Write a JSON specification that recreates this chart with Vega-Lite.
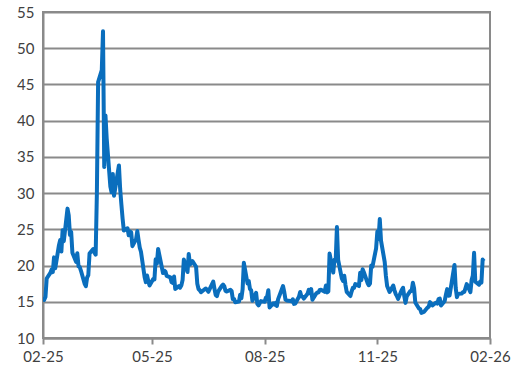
{
  "$schema": "https://vega.github.io/schema/vega-lite/v6.json",
  "width": 447,
  "height": 326,
  "autosize": "none",
  "padding": {"left": 43, "top": 12, "right": 30, "bottom": 41},
  "background": "white",
  "config": {
    "view": {"stroke": "#8a8a8a", "strokeWidth": 2},
    "axis": {"labelFont": "Lato", "labelFontSize": 15, "labelColor": "#404040", "domainColor": "#8a8a8a", "domainWidth": 2, "tickColor": "#8a8a8a", "tickWidth": 2, "gridColor": "#8a8a8a", "gridWidth": 2, "gridOpacity": 1, "title": null}
  },
  "data": {"values": [
    {"d":"2025-02-18","v":15.35},{"d":"2025-02-19","v":15.27},{"d":"2025-02-20","v":15.66},{"d":"2025-02-21","v":18.21},
    {"d":"2025-02-24","v":18.98},{"d":"2025-02-25","v":19.43},{"d":"2025-02-26","v":19.10},{"d":"2025-02-27","v":21.13},{"d":"2025-02-28","v":19.63},
    {"d":"2025-03-03","v":22.78},{"d":"2025-03-04","v":23.51},{"d":"2025-03-05","v":21.93},{"d":"2025-03-06","v":24.87},{"d":"2025-03-07","v":23.37},
    {"d":"2025-03-10","v":27.86},{"d":"2025-03-11","v":26.92},{"d":"2025-03-12","v":24.23},{"d":"2025-03-13","v":24.66},{"d":"2025-03-14","v":21.77},
    {"d":"2025-03-17","v":20.51},{"d":"2025-03-18","v":21.70},{"d":"2025-03-19","v":19.90},{"d":"2025-03-20","v":19.80},{"d":"2025-03-21","v":19.28},
    {"d":"2025-03-24","v":17.48},{"d":"2025-03-25","v":17.15},{"d":"2025-03-26","v":18.33},{"d":"2025-03-27","v":18.69},{"d":"2025-03-28","v":21.65},
    {"d":"2025-03-31","v":22.28},{"d":"2025-04-01","v":21.77},{"d":"2025-04-02","v":21.51},{"d":"2025-04-03","v":30.02},{"d":"2025-04-04","v":45.31},
    {"d":"2025-04-07","v":46.98},{"d":"2025-04-08","v":52.33},{"d":"2025-04-09","v":33.62},{"d":"2025-04-10","v":40.72},{"d":"2025-04-11","v":37.56},
    {"d":"2025-04-14","v":30.89},{"d":"2025-04-15","v":30.12},{"d":"2025-04-16","v":32.64},{"d":"2025-04-17","v":29.65},
    {"d":"2025-04-21","v":33.82},{"d":"2025-04-22","v":30.57},{"d":"2025-04-23","v":28.45},{"d":"2025-04-24","v":26.47},{"d":"2025-04-25","v":24.84},
    {"d":"2025-04-28","v":25.15},{"d":"2025-04-29","v":24.17},{"d":"2025-04-30","v":24.70},{"d":"2025-05-01","v":24.60},{"d":"2025-05-02","v":22.68},
    {"d":"2025-05-05","v":23.64},{"d":"2025-05-06","v":24.76},{"d":"2025-05-07","v":23.55},{"d":"2025-05-08","v":22.48},{"d":"2025-05-09","v":21.90},
    {"d":"2025-05-12","v":18.39},{"d":"2025-05-13","v":17.71},{"d":"2025-05-14","v":18.62},{"d":"2025-05-15","v":17.83},{"d":"2025-05-16","v":17.24},
    {"d":"2025-05-19","v":18.14},{"d":"2025-05-20","v":18.09},{"d":"2025-05-21","v":20.87},{"d":"2025-05-22","v":20.28},{"d":"2025-05-23","v":22.29},
    {"d":"2025-05-27","v":18.96},{"d":"2025-05-28","v":19.31},{"d":"2025-05-29","v":19.18},{"d":"2025-05-30","v":18.57},
    {"d":"2025-06-02","v":18.36},{"d":"2025-06-03","v":17.69},{"d":"2025-06-04","v":17.61},{"d":"2025-06-05","v":18.48},{"d":"2025-06-06","v":16.77},
    {"d":"2025-06-09","v":17.16},{"d":"2025-06-10","v":16.95},{"d":"2025-06-11","v":17.26},{"d":"2025-06-12","v":18.02},{"d":"2025-06-13","v":20.82},
    {"d":"2025-06-16","v":19.11},{"d":"2025-06-17","v":21.60},{"d":"2025-06-18","v":20.14},{"d":"2025-06-20","v":20.62},
    {"d":"2025-06-23","v":19.83},{"d":"2025-06-24","v":17.48},{"d":"2025-06-25","v":16.76},{"d":"2025-06-26","v":16.59},{"d":"2025-06-27","v":16.32},
    {"d":"2025-06-30","v":16.73},{"d":"2025-07-01","v":16.83},{"d":"2025-07-02","v":16.64},{"d":"2025-07-03","v":16.38},
    {"d":"2025-07-07","v":17.79},{"d":"2025-07-08","v":16.81},{"d":"2025-07-09","v":15.94},{"d":"2025-07-10","v":15.78},{"d":"2025-07-11","v":16.40},
    {"d":"2025-07-14","v":17.20},{"d":"2025-07-15","v":17.38},{"d":"2025-07-16","v":17.16},{"d":"2025-07-17","v":16.52},{"d":"2025-07-18","v":16.41},
    {"d":"2025-07-21","v":16.65},{"d":"2025-07-22","v":16.50},{"d":"2025-07-23","v":15.37},{"d":"2025-07-24","v":15.39},{"d":"2025-07-25","v":14.93},
    {"d":"2025-07-28","v":15.03},{"d":"2025-07-29","v":15.98},{"d":"2025-07-30","v":15.48},{"d":"2025-07-31","v":16.72},{"d":"2025-08-01","v":20.38},
    {"d":"2025-08-04","v":17.52},{"d":"2025-08-05","v":17.85},{"d":"2025-08-06","v":16.77},{"d":"2025-08-07","v":16.57},{"d":"2025-08-08","v":15.15},
    {"d":"2025-08-11","v":16.25},{"d":"2025-08-12","v":14.73},{"d":"2025-08-13","v":14.49},{"d":"2025-08-14","v":14.83},{"d":"2025-08-15","v":15.09},
    {"d":"2025-08-18","v":14.99},{"d":"2025-08-19","v":15.57},{"d":"2025-08-20","v":15.69},{"d":"2025-08-21","v":16.60},{"d":"2025-08-22","v":14.22},
    {"d":"2025-08-25","v":14.79},{"d":"2025-08-26","v":14.62},{"d":"2025-08-27","v":14.85},{"d":"2025-08-28","v":14.43},{"d":"2025-08-29","v":15.36},
    {"d":"2025-09-02","v":17.17},{"d":"2025-09-03","v":16.35},{"d":"2025-09-04","v":15.30},{"d":"2025-09-05","v":15.18},
    {"d":"2025-09-08","v":15.11},{"d":"2025-09-09","v":15.04},{"d":"2025-09-10","v":15.35},{"d":"2025-09-11","v":14.71},{"d":"2025-09-12","v":14.76},
    {"d":"2025-09-15","v":15.69},{"d":"2025-09-16","v":16.36},{"d":"2025-09-17","v":15.72},{"d":"2025-09-18","v":15.70},{"d":"2025-09-19","v":15.45},
    {"d":"2025-09-22","v":16.10},{"d":"2025-09-23","v":16.64},{"d":"2025-09-24","v":16.18},{"d":"2025-09-25","v":16.74},{"d":"2025-09-26","v":15.29},
    {"d":"2025-09-29","v":16.12},{"d":"2025-09-30","v":16.28},{"d":"2025-10-01","v":16.29},{"d":"2025-10-02","v":16.63},{"d":"2025-10-03","v":16.65},
    {"d":"2025-10-06","v":16.37},{"d":"2025-10-07","v":17.24},{"d":"2025-10-08","v":16.30},{"d":"2025-10-09","v":16.43},{"d":"2025-10-10","v":21.66},
    {"d":"2025-10-13","v":19.03},{"d":"2025-10-14","v":20.81},{"d":"2025-10-15","v":20.64},{"d":"2025-10-16","v":25.31},{"d":"2025-10-17","v":20.78},
    {"d":"2025-10-20","v":18.23},{"d":"2025-10-21","v":17.87},{"d":"2025-10-22","v":18.60},{"d":"2025-10-23","v":17.30},{"d":"2025-10-24","v":16.37},
    {"d":"2025-10-27","v":15.79},{"d":"2025-10-28","v":16.42},{"d":"2025-10-29","v":16.92},{"d":"2025-10-30","v":16.91},{"d":"2025-10-31","v":17.44},
    {"d":"2025-11-03","v":17.17},{"d":"2025-11-04","v":19.00},{"d":"2025-11-05","v":18.01},{"d":"2025-11-06","v":19.50},{"d":"2025-11-07","v":19.08},
    {"d":"2025-11-10","v":17.60},{"d":"2025-11-11","v":17.28},{"d":"2025-11-12","v":17.51},{"d":"2025-11-13","v":20.00},{"d":"2025-11-14","v":19.83},
    {"d":"2025-11-17","v":22.38},{"d":"2025-11-18","v":24.69},{"d":"2025-11-19","v":23.66},{"d":"2025-11-20","v":26.42},{"d":"2025-11-21","v":23.43},
    {"d":"2025-11-24","v":20.52},{"d":"2025-11-25","v":18.56},{"d":"2025-11-26","v":17.19},{"d":"2025-11-28","v":16.35},
    {"d":"2025-12-01","v":17.24},{"d":"2025-12-02","v":16.59},{"d":"2025-12-03","v":16.08},{"d":"2025-12-04","v":15.78},{"d":"2025-12-05","v":15.41},
    {"d":"2025-12-08","v":16.66},{"d":"2025-12-09","v":16.93},{"d":"2025-12-10","v":15.77},{"d":"2025-12-11","v":14.85},{"d":"2025-12-12","v":15.74},
    {"d":"2025-12-15","v":16.50},{"d":"2025-12-16","v":16.48},{"d":"2025-12-17","v":17.62},{"d":"2025-12-18","v":16.87},{"d":"2025-12-19","v":14.91},
    {"d":"2025-12-22","v":14.08},{"d":"2025-12-23","v":14.00},{"d":"2025-12-24","v":13.47},{"d":"2025-12-26","v":13.60},
    {"d":"2025-12-29","v":14.20},{"d":"2025-12-30","v":14.33},{"d":"2025-12-31","v":14.95},{"d":"2026-01-02","v":14.51},
    {"d":"2026-01-05","v":14.90},{"d":"2026-01-06","v":14.75},{"d":"2026-01-07","v":15.38},{"d":"2026-01-08","v":15.45},{"d":"2026-01-09","v":14.49},
    {"d":"2026-01-12","v":15.12},{"d":"2026-01-13","v":15.98},{"d":"2026-01-14","v":16.75},{"d":"2026-01-15","v":15.84},{"d":"2026-01-16","v":15.86},
    {"d":"2026-01-20","v":20.09},{"d":"2026-01-21","v":16.90},{"d":"2026-01-22","v":15.64},{"d":"2026-01-23","v":16.09},
    {"d":"2026-01-26","v":16.15},{"d":"2026-01-27","v":16.35},{"d":"2026-01-28","v":16.35},{"d":"2026-01-29","v":16.88},{"d":"2026-01-30","v":17.44},
    {"d":"2026-02-02","v":16.34},{"d":"2026-02-03","v":18.00},{"d":"2026-02-04","v":18.64},{"d":"2026-02-05","v":21.77},{"d":"2026-02-06","v":17.76},
    {"d":"2026-02-09","v":17.36},{"d":"2026-02-10","v":17.79},{"d":"2026-02-11","v":17.65},{"d":"2026-02-12","v":20.82},{"d":"2026-02-13","v":20.60}
  ]},
  "mark": {"type": "line", "color": "#0a6ebd", "strokeWidth": 4, "strokeJoin": "round", "clip": true},
  "encoding": {
    "x": {
      "field": "d", "type": "temporal",
      "scale": {"type": "utc", "domain": [{"year": 2025, "month": 2, "date": 18, "utc": true}, {"year": 2026, "month": 2, "date": 18, "utc": true}]},
      "axis": {
        "values": [
          {"year": 2025, "month": 2, "date": 18, "utc": true},
          {"year": 2025, "month": 5, "date": 18, "utc": true},
          {"year": 2025, "month": 8, "date": 18, "utc": true},
          {"year": 2025, "month": 11, "date": 18, "utc": true},
          {"year": 2026, "month": 2, "date": 18, "utc": true}
        ],
        "labelExpr": "utcFormat(datum.value, '%m-%y')", "grid": false, "tickSize": 6, "labelPadding": 5, "labelFlush": false, "labelOverlap": false
      }
    },
    "y": {
      "field": "v", "type": "quantitative",
      "scale": {"domain": [10, 55], "nice": false, "zero": false},
      "axis": {"values": [10, 15, 20, 25, 30, 35, 40, 45, 50, 55], "ticks": false, "labelPadding": 9, "grid": true}
    }
  }
}
